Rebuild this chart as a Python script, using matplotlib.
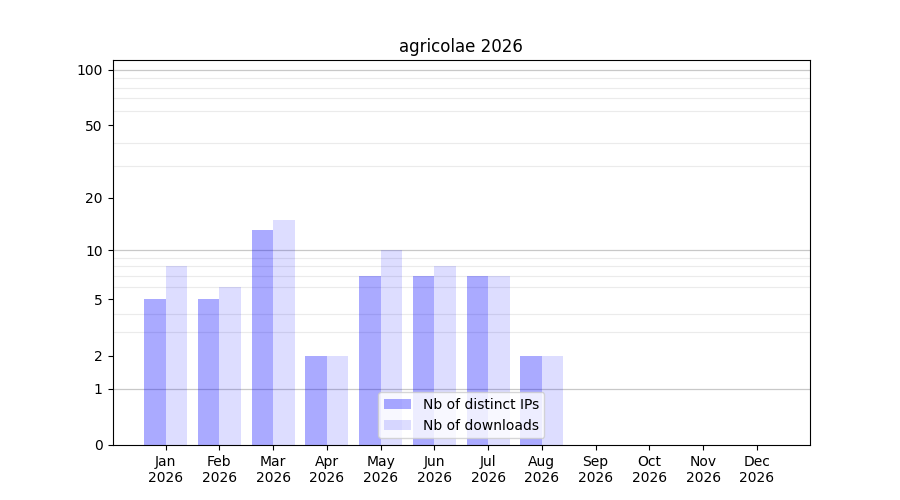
import numpy as np
import matplotlib
matplotlib.use("Agg")
import matplotlib.pyplot as plt

months = ["Jan\n2026", "Feb\n2026", "Mar\n2026", "Apr\n2026", "May\n2026", "Jun\n2026",
          "Jul\n2026", "Aug\n2026", "Sep\n2026", "Oct\n2026", "Nov\n2026", "Dec\n2026"]
distinct_ips = [5, 5, 13, 2, 7, 7, 7, 2, 0, 0, 0, 0]
downloads = [8, 6, 15, 2, 10, 8, 7, 2, 0, 0, 0, 0]
ytick_values = [0, 1, 2, 5, 10, 20, 50, 100]
minor_values = [3, 4, 6, 7, 8, 9, 30, 40, 60, 70, 80, 90]
major_grid = [1, 10, 100]

fig, ax = plt.subplots(figsize=(9, 5), dpi=100)
ax.set_yscale('function', functions=(lambda v: np.log10(np.clip(v, 0, None) + 1),
                                     lambda v: 10 ** v - 1))
x = np.arange(len(months))
ax.bar(x, distinct_ips, width=-0.4, align='edge', color='blue', alpha=0.333,
       label='Nb of distinct IPs', zorder=2)
ax.bar(x, downloads, width=0.4, align='edge', color='blue', alpha=0.133,
       label='Nb of downloads', zorder=2)

ax.set_yticks(ytick_values)
ax.set_yticklabels([str(v) for v in ytick_values])
ax.set_yticks(minor_values + [2, 5, 20, 50], minor=True)
ax.tick_params(axis='y', which='minor', length=0)
ax.grid(True, axis='y', which='minor', color='#ebebeb', linewidth=0.8, zorder=1)
for v in major_grid:
    ax.axhline(v, color='#c8c8c8', linewidth=0.9, zorder=1)
ax.set_ylim(0, 113)
ax.set_xticks(x)
ax.set_xticklabels(months)
ax.set_xlim(-0.99, 11.99)
ax.set_title("agricolae 2026")
ax.legend(loc='lower center')
fig.savefig("out.png")
